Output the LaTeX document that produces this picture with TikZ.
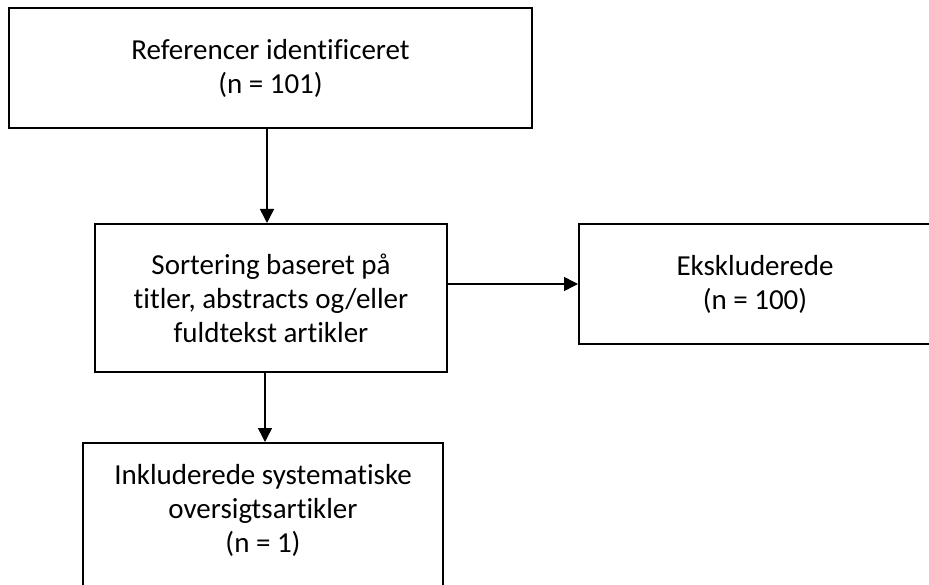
\documentclass[tikz,border=0pt]{standalone}
\usepackage{fontspec}
\setmainfont[Ligatures=NoCommon]{Carlito}
\usetikzlibrary{arrows.meta}
\begin{document}
\begin{tikzpicture}[x=1pt,y=-1pt,
  box/.style={draw=black, line width=2pt, rectangle, inner sep=0pt, align=center,
    font=\fontsize{29pt}{34pt}\selectfont},
  txt/.style={align=center, inner sep=0pt, font=\fontsize{29pt}{34pt}\selectfont},
  arr/.style={line width=1.5pt, -{Triangle[length=14pt,width=14pt]}}]
\useasboundingbox (0,0) rectangle (929,585);
\clip (0,0) rectangle (929,585);
\fill[white] (0,0) rectangle (929,585);
\node[box, minimum width=523pt, minimum height=120pt] (box1) at (270.5,68)
  {Referencer identificeret\\(n = 101)};
\node[box, minimum width=352pt, minimum height=148pt] (box2) at (271,298)
  {Sortering baseret på\\titler, abstracts og/eller\\fuldtekst artikler};
\node[box, minimum width=352pt, minimum height=120pt] (box3) at (755,284)
  {Ekskluderede\\(n = 100)};
\node[box, minimum width=360pt, minimum height=180pt, anchor=north] (box4) at (263,442) {};
\node[txt] (box4t) at (263,510)
  {Inkluderede systematiske\\oversigtsartikler\\(n = 1)};
\draw[arr] ([xshift=-3.5pt]box1.south) -- ([xshift=-3.5pt]box1.south |- box2.north);
\draw[arr] (box3.west -| box2.east) -- (box3.west);
\draw[arr] ([xshift=2pt]box4.north |- box2.south) -- ([xshift=2pt]box4.north);
\end{tikzpicture}
\end{document}
